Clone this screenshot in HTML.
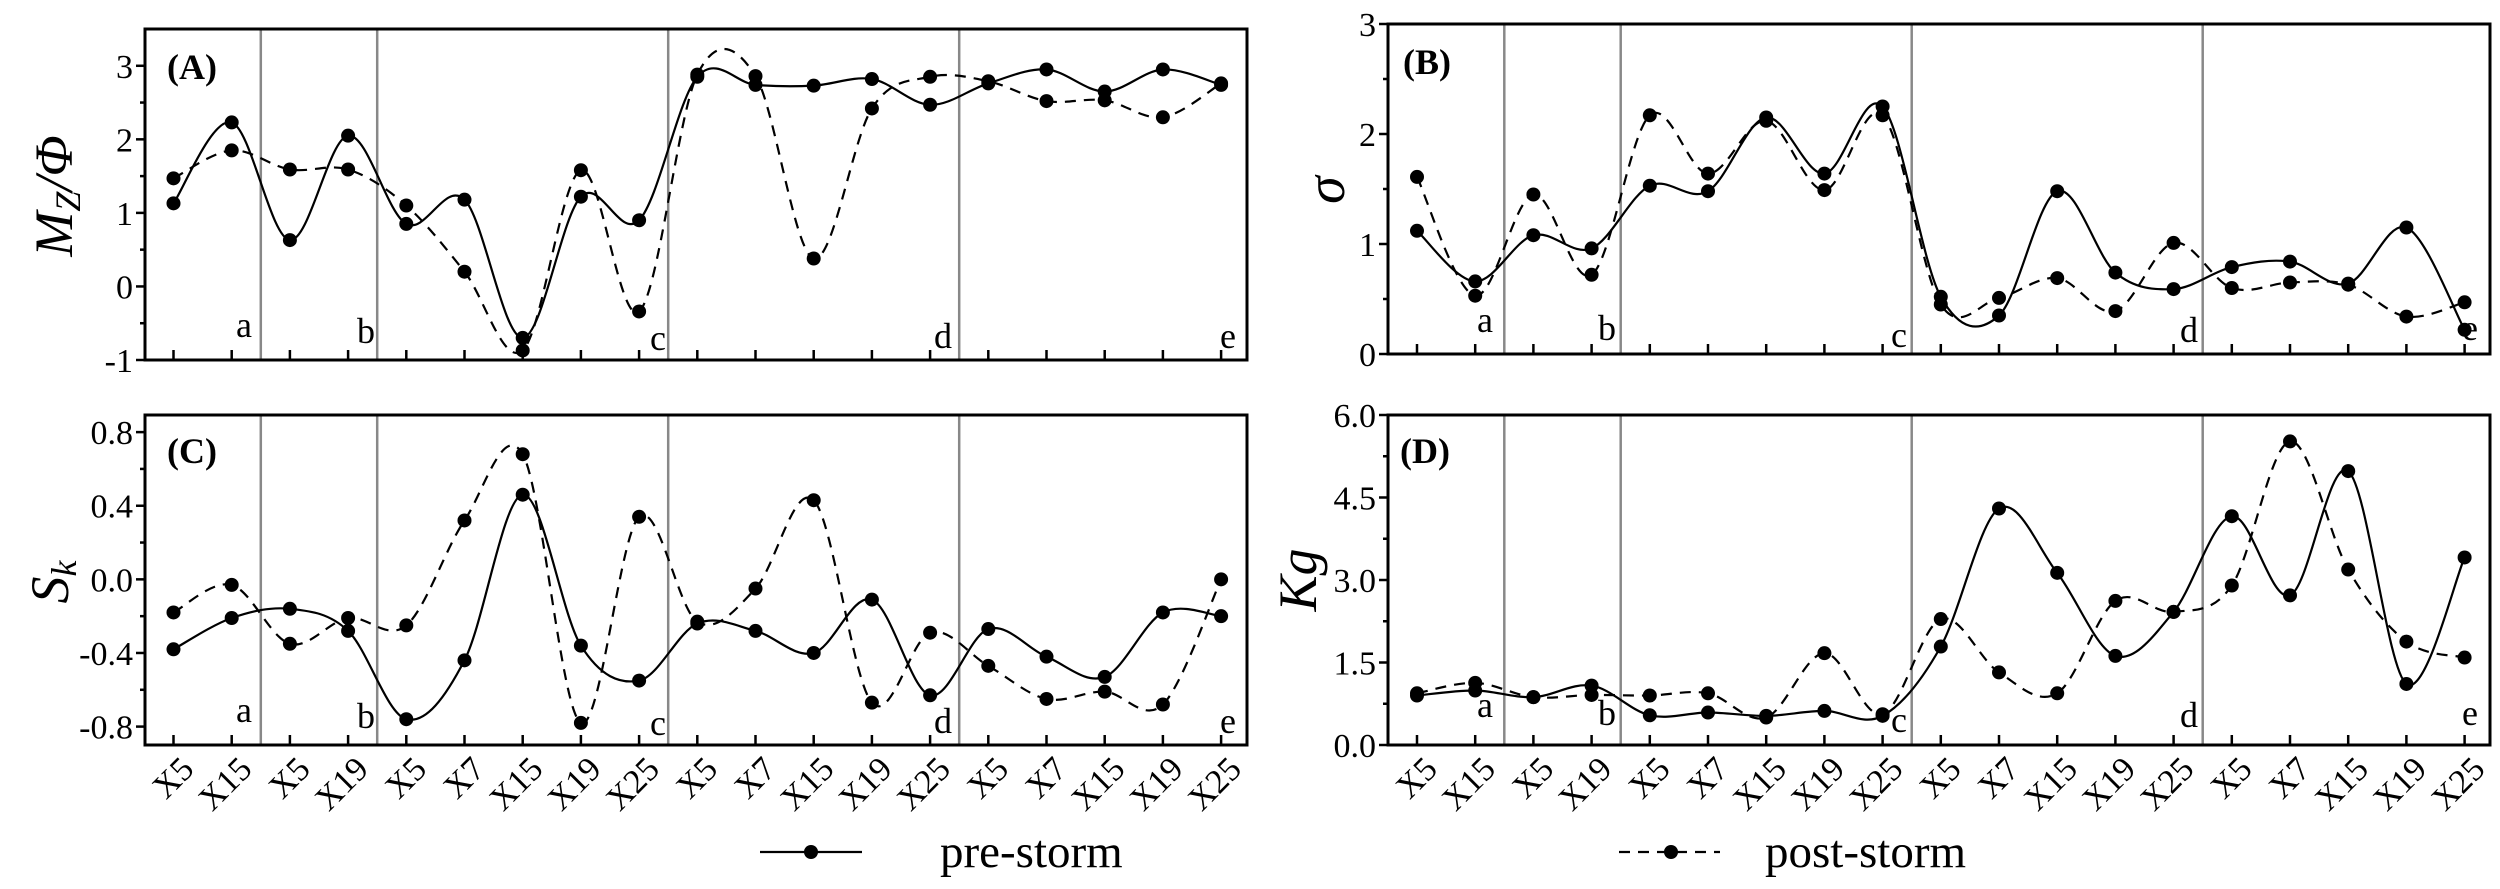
<!DOCTYPE html>
<html><head><meta charset="utf-8"><style>
html,body{margin:0;padding:0;background:#fff;}
svg{display:block;font-family:"Liberation Serif",serif;}
</style></head><body>
<svg id="s" width="2500" height="889" viewBox="0 0 2500 889" xmlns="http://www.w3.org/2000/svg">
<rect width="2500" height="889" fill="#fff"/>
<g id="g"></g>
<text transform="translate(72,196) rotate(-90)" text-anchor="middle" font-size="54" font-style="italic">M<tspan font-size="36" dy="8">Z</tspan><tspan dy="-8">/Φ</tspan></text>
<text transform="translate(68,582) rotate(-90)" text-anchor="middle" font-size="54" font-style="italic">S<tspan font-size="36" dy="8">k</tspan></text>
<text transform="translate(1344,190) rotate(-90)" text-anchor="middle" font-size="56" font-style="italic">σ</text>
<text transform="translate(1316,580) rotate(-90)" text-anchor="middle" font-size="54" font-style="italic">Kg</text>
<line x1="760" y1="852" x2="862" y2="852" stroke="#000" stroke-width="2.2"/>
<circle cx="811" cy="852" r="7"/>
<text x="940" y="867" font-size="47">pre-storm</text>
<line x1="1619" y1="852" x2="1720" y2="852" stroke="#000" stroke-width="2.2" stroke-dasharray="11,8"/>
<circle cx="1671" cy="852" r="7"/>
<text x="1765" y="867" font-size="47">post-storm</text>
</svg>
<script>
var NS="http://www.w3.org/2000/svg",G=document.getElementById("g");
function el(t,a,txt){var e=document.createElementNS(NS,t);for(var k in a)e.setAttribute(k,a[k]);if(txt!=null)e.textContent=txt;G.appendChild(e);return e;}
var labs=["X5","X15","X5","X19","X5","X7","X15","X19","X25","X5","X7","X15","X19","X25","X5","X7","X15","X19","X25"];
var P=[
 {L:145,R:1247,T:29,B:360,min:-1,max:3.5,x0:173.5,ticks:[[3,"3"],[2,"2"],[1,"1"],[0,"0"],[-1,"-1"]],minor:[2.5,1.5,0.5,-0.5],name:"(A)",nx:167,ny:79,xl:false,
  pre:[1.13,2.23,0.63,2.05,0.85,1.18,-0.7,1.22,0.9,2.85,2.74,2.73,2.82,2.47,2.76,2.95,2.65,2.95,2.74],
  post:[1.47,1.85,1.59,1.59,1.1,0.2,-0.87,1.58,-0.34,2.88,2.86,0.38,2.42,2.85,2.79,2.52,2.53,2.3,2.76],
  lb:[[244,337],[366,343],[658,350],[943,348],[1228,348]]},
 {L:1388,R:2490,T:24,B:354,min:0,max:3,x0:1417,ticks:[[3,"3"],[2,"2"],[1,"1"],[0,"0"]],minor:[2.5,1.5,0.5],name:"(B)",nx:1403,ny:74,xl:false,
  pre:[1.12,0.66,1.08,0.96,1.53,1.48,2.15,1.64,2.25,0.52,0.35,1.48,0.74,0.59,0.79,0.84,0.64,1.15,0.22],
  post:[1.61,0.53,1.45,0.72,2.17,1.64,2.12,1.49,2.17,0.45,0.51,0.69,0.39,1.01,0.6,0.65,0.63,0.34,0.47],
  lb:[[1485,332],[1607,340],[1899,347],[2189,342],[2470,340]]},
 {L:145,R:1247,T:415,B:745,min:-0.9,max:0.893,x0:173.5,ticks:[[0.8,"0.8"],[0.4,"0.4"],[0,"0.0"],[-0.4,"-0.4"],[-0.8,"-0.8"]],minor:[0.6,0.2,-0.2,-0.6],name:"(C)",nx:167,ny:463,xl:true,
  pre:[-0.38,-0.21,-0.16,-0.28,-0.76,-0.44,0.46,-0.36,-0.55,-0.24,-0.28,-0.4,-0.11,-0.63,-0.27,-0.42,-0.53,-0.18,-0.2],
  post:[-0.18,-0.03,-0.35,-0.21,-0.25,0.32,0.68,-0.78,0.34,-0.23,-0.05,0.43,-0.67,-0.29,-0.47,-0.65,-0.61,-0.68,0.0],
  lb:[[244,722],[366,728],[658,735],[943,733],[1228,733]]},
 {L:1388,R:2490,T:415,B:745,min:0,max:6,x0:1417,ticks:[[6,"6.0"],[4.5,"4.5"],[3,"3.0"],[1.5,"1.5"],[0,"0.0"]],minor:[5.25,3.75,2.25,0.75],name:"(D)",nx:1400,ny:463,xl:true,
  pre:[0.9,0.99,0.87,1.08,0.54,0.59,0.53,0.62,0.53,1.79,4.3,3.13,1.62,2.42,4.16,2.72,4.98,1.11,3.41],
  post:[0.94,1.13,0.87,0.91,0.9,0.94,0.5,1.67,0.56,2.29,1.32,0.94,2.62,2.42,2.9,5.52,3.19,1.88,1.59],
  lb:[[1485,717],[1607,725],[1899,732],[2189,727],[2470,725]]}
];
var DX=58.2;
function path(pts){var d="M"+pts[0][0]+","+pts[0][1];for(var i=0;i<pts.length-1;i++){var p0=pts[i>0?i-1:0],p1=pts[i],p2=pts[i+1],p3=pts[i+2<pts.length?i+2:i+1];
 var c1x=p1[0]+(p2[0]-p0[0])/6,c1y=p1[1]+(p2[1]-p0[1])/6,c2x=p2[0]-(p3[0]-p1[0])/6,c2y=p2[1]-(p3[1]-p1[1])/6;
 d+=" C"+c1x.toFixed(1)+","+c1y.toFixed(1)+" "+c2x.toFixed(1)+","+c2y.toFixed(1)+" "+p2[0].toFixed(1)+","+p2[1].toFixed(1);}return d;}
P.forEach(function(p){
 function Y(v){return p.B-(v-p.min)/(p.max-p.min)*(p.B-p.T);}
 [1.5,3.5,8.5,13.5].forEach(function(k){var x=p.x0+k*DX;el("line",{x1:x,y1:p.T,x2:x,y2:p.B,stroke:"#888","stroke-width":2.5});});
 p.ticks.forEach(function(t){var y=Y(t[0]);el("line",{x1:p.L-9,y1:y,x2:p.L,y2:y,stroke:"#000","stroke-width":2.5});
  el("text",{x:p.L-12,y:y+12,"text-anchor":"end","font-size":34},t[1]);});
 p.minor.forEach(function(v){var y=Y(v);el("line",{x1:p.L-5,y1:y,x2:p.L,y2:y,stroke:"#000","stroke-width":2.5});});
 for(var i=0;i<19;i++){var x=p.x0+i*DX;el("line",{x1:x,y1:p.B-10,x2:x,y2:p.B,stroke:"#000","stroke-width":2.5});
  if(p.xl){el("text",{transform:"translate("+(x+22)+","+(p.B+26)+") rotate(-45)","text-anchor":"end","font-size":34},labs[i]);}}
 "abcde".split("").forEach(function(c,j){el("text",{x:p.lb[j][0],y:p.lb[j][1],"text-anchor":"middle","font-size":36},c);});
 el("text",{x:p.nx,y:p.ny,"font-size":36,"font-weight":"bold"},p.name);
 var a=p.pre.map(function(v,i){return[p.x0+i*DX,Y(v)];}),b=p.post.map(function(v,i){return[p.x0+i*DX,Y(v)];});
 el("path",{d:path(b),fill:"none",stroke:"#000","stroke-width":2.2,"stroke-dasharray":"11,8"});
 el("path",{d:path(a),fill:"none",stroke:"#000","stroke-width":2.2});
 a.concat(b).forEach(function(q){el("circle",{cx:q[0],cy:q[1],r:7});});
 el("rect",{x:p.L,y:p.T,width:p.R-p.L,height:p.B-p.T,fill:"none",stroke:"#000","stroke-width":3});
});
</script>
</body></html>
